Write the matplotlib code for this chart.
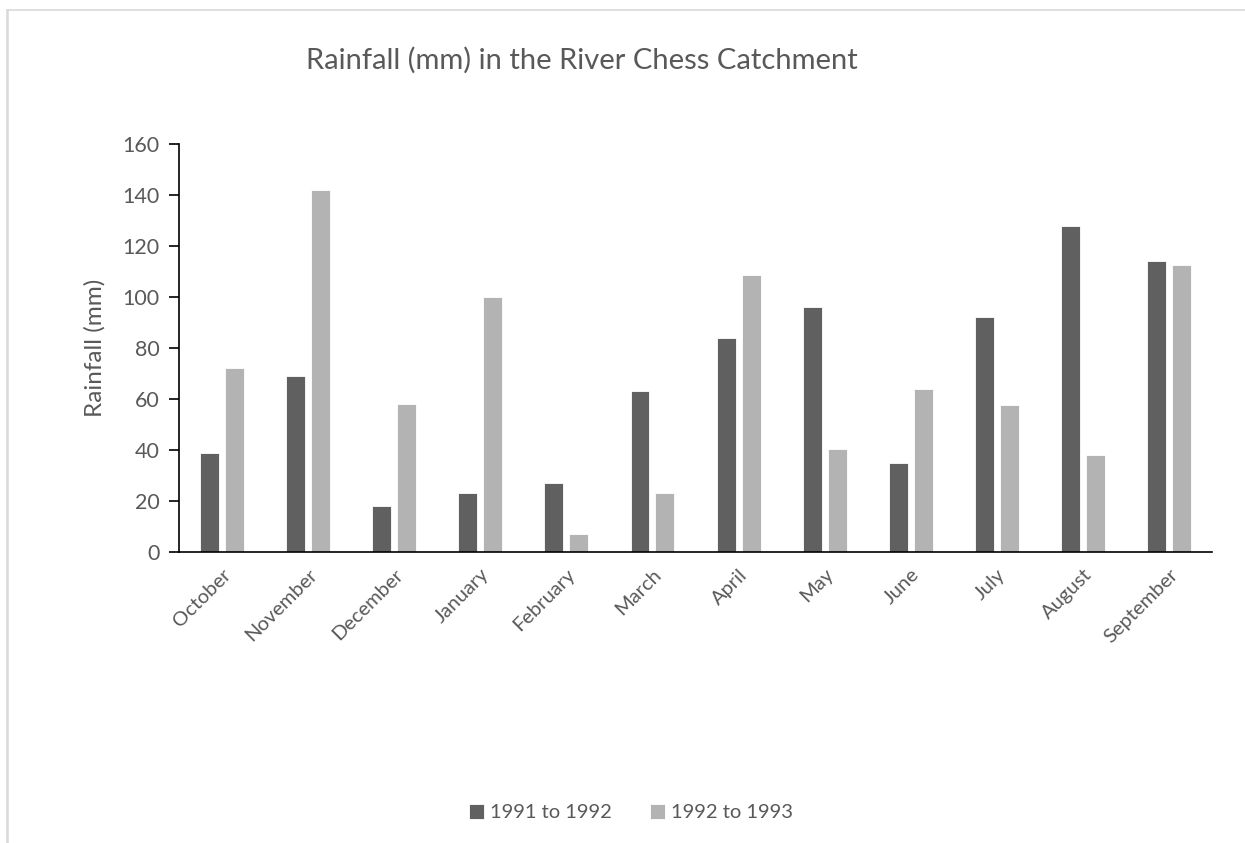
import numpy as np
import matplotlib.pyplot as plt
import matplotlib.transforms as mtransforms
from matplotlib.lines import Line2D

# Monthly rainfall totals (mm), water year October to September
months = ["October", "November", "December", "January", "February", "March",
          "April", "May", "June", "July", "August", "September"]
rain_1991_92 = [39, 69, 18, 23, 27, 63, 84, 96, 35, 92, 128, 114]
rain_1992_93 = [72, 142, 58, 100, 7, 23, 108.5, 40.5, 64, 57.5, 38, 112.5]
series_labels = ["1991 to 1992", "1992 to 1993"]

DARK = "#606060"
LIGHT = "#b3b3b3"
TEXT = "#595959"

plt.rcParams["font.family"] = ["Lato", "DejaVu Sans"]

fig = plt.figure(figsize=(12.45, 8.43), dpi=100)
ax = fig.add_axes([0.1438, 0.3452, 0.8297, 0.4840])

x = np.arange(len(months))
width = 0.22
offset = 0.145
ax.bar(x - offset, rain_1991_92, width, color=DARK, edgecolor="white",
       linewidth=0.6, label=series_labels[0])
ax.bar(x + offset, rain_1992_93, width, color=LIGHT, edgecolor="white",
       linewidth=0.6, label=series_labels[1])

ax.set_xlim(-0.5, len(months) - 0.5)
ax.set_ylim(0, 160)
ax.set_yticks(np.arange(0, 161, 20))
ax.set_xticks(x)
ax.set_xticklabels(months, rotation=45, ha="right", rotation_mode="anchor")

# nudge the slanted month labels a little left/down
shift = mtransforms.ScaledTranslation(-7 / 100, -4 / 100, fig.dpi_scale_trans)
for lbl in ax.get_xticklabels():
    lbl.set_transform(lbl.get_transform() + shift)

for side in ["top", "right"]:
    ax.spines[side].set_visible(False)
ax.spines["left"].set_color("black")
ax.spines["bottom"].set_color("black")
ax.spines["left"].set_linewidth(1.2)
ax.spines["bottom"].set_linewidth(1.2)

ax.tick_params(axis="y", direction="out", length=7, width=1.2, colors="black",
               labelcolor=TEXT, labelsize=15.5, pad=7)
ax.tick_params(axis="x", length=0, labelcolor=TEXT, labelsize=14.5, pad=10)

ax.set_ylabel("Rainfall (mm)", color=TEXT, fontsize=17.5, labelpad=12)

fig.text(0.4675, 0.929, "Rainfall (mm) in the River Chess Catchment",
         ha="center", va="center", fontsize=21, color=TEXT)

fig.legend(loc="center", bbox_to_anchor=(0.507, 0.036), ncol=2, frameon=False,
           fontsize=14.5, labelcolor=TEXT, handlelength=0.75, handleheight=0.75,
           handletextpad=0.3, columnspacing=1.9)

# light chart-area border along the top and left edges
fig.add_artist(Line2D([0.0055, 1.0], [0.9887, 0.9887], color="#d9d9d9",
                      linewidth=1.2, transform=fig.transFigure))
fig.add_artist(Line2D([0.0055, 0.0055], [0.0, 0.9887], color="#d9d9d9",
                      linewidth=1.8, transform=fig.transFigure))

fig.savefig("out.png", dpi=100)
